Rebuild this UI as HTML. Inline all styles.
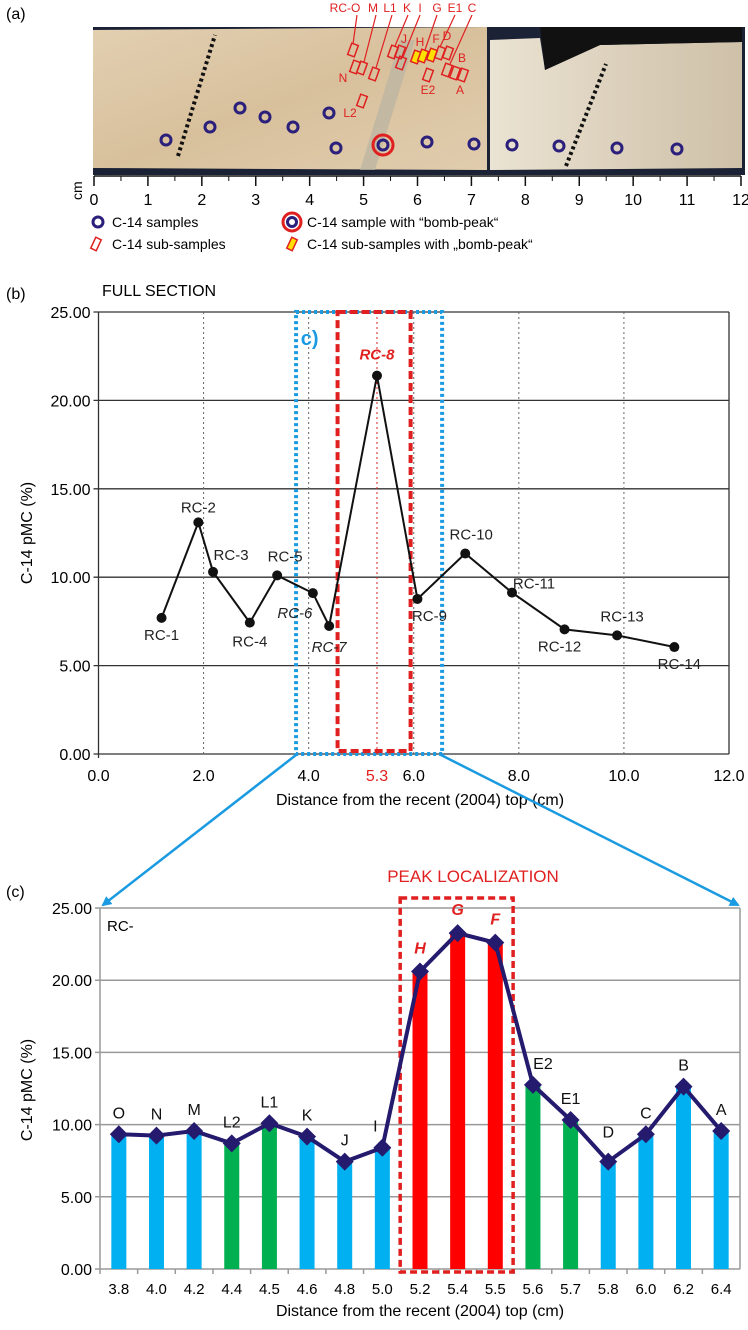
<!DOCTYPE html>
<html><head><meta charset="utf-8"><style>
html,body{margin:0;padding:0;background:#fff;}
svg{display:block;font-family:"Liberation Sans",Arial,sans-serif;}
</style></head><body>
<svg id="fig" width="748" height="1330" viewBox="0 0 748 1330" xmlns="http://www.w3.org/2000/svg">
<defs>
<linearGradient id="rockL" x1="0" y1="0" x2="1" y2="1">
<stop offset="0" stop-color="#e2d0b2"/><stop offset="0.5" stop-color="#d8c09c"/><stop offset="1" stop-color="#e0cdae"/></linearGradient>
<linearGradient id="rockR" x1="0" y1="0" x2="1" y2="0">
<stop offset="0" stop-color="#ebe3d3"/><stop offset="0.6" stop-color="#d9cdb8"/><stop offset="1" stop-color="#cfc1a8"/></linearGradient>
<marker id="arr" markerWidth="10" markerHeight="10" refX="8" refY="5" orient="auto" markerUnits="userSpaceOnUse"><path d="M0,0 L10,5 L0,10 Z" fill="#1a9ae0"/></marker>
</defs>

<!-- PANEL A -->
<g>
<text x="6" y="19" font-size="16">(a)</text>
<rect x="93" y="27" width="652" height="148" fill="#1c2236"/>
<polygon points="93,30 487,27 487,170 93,168" fill="url(#rockL)"/>
<polygon points="490,40 540,38 545,70 600,45 742,42 742,168 490,170" fill="url(#rockR)"/>
<polygon points="545,70 600,45 742,42 742,27 540,27" fill="#111"/>
<polygon points="360,170 400,40 415,40 375,170" fill="#b9b3a3" opacity="0.7"/>
<line x1="178" y1="156" x2="215" y2="35" stroke="#111" stroke-width="4" stroke-dasharray="3,3"/>
<line x1="566" y1="166" x2="606" y2="64" stroke="#111" stroke-width="4" stroke-dasharray="3,3"/>
<g id="subrects"></g>
<g id="rings"></g>
<g id="alabels" fill="#e02020" font-size="12"></g>
<text x="0" y="0" font-size="14" transform="translate(82,200) rotate(-90)">cm</text>
<line x1="94" y1="176" x2="741" y2="176" stroke="#111" stroke-width="1.5"/>
<g id="cmticks" font-size="16"></g>
<g font-size="14">
<circle cx="98" cy="222" r="5" fill="none" stroke="#2a1f7a" stroke-width="3"/>
<text x="112" y="227">C-14 samples</text>
<circle cx="292" cy="222" r="9" fill="none" stroke="#e02020" stroke-width="3"/>
<circle cx="292" cy="222" r="4.5" fill="none" stroke="#2a1f7a" stroke-width="3"/>
<text x="307" y="227">C-14 sample with “bomb-peak“</text>
<rect x="93" y="238" width="6" height="12" fill="none" stroke="#e02020" stroke-width="1.5" transform="rotate(25 96 244)"/>
<text x="112" y="249">C-14 sub-samples</text>
<rect x="289" y="238" width="6" height="12" fill="#ffe000" stroke="#e02020" stroke-width="1.5" transform="rotate(25 292 244)"/>
<text x="307" y="249">C-14 sub-samples with „bomb-peak“</text>
</g>
</g>

<!-- PANEL B -->
<g>
<text x="6" y="299" font-size="16">(b)</text>
<text x="102" y="296" font-size="16">FULL SECTION</text>
<g id="gridB"></g>
<g id="boxesB"></g>
<g id="lineB"></g>
<text x="0" y="0" font-size="16" text-anchor="middle" transform="translate(32,533) rotate(-90)">C-14 pMC (%)</text>
<text x="420" y="805" font-size="16" text-anchor="middle">Distance from the recent (2004) top (cm)</text>
</g>

<!-- connecting arrows -->
<line x1="296" y1="755" x2="103" y2="905" stroke="#1a9ae0" stroke-width="2.5" marker-end="url(#arr)"/>
<line x1="441" y1="755" x2="738" y2="905" stroke="#1a9ae0" stroke-width="2.5" marker-end="url(#arr)"/>

<!-- PANEL C -->
<g>
<text x="6" y="897" font-size="16">(c)</text>
<text x="473" y="882" font-size="17" fill="#e02020" text-anchor="middle">PEAK LOCALIZATION</text>
<g id="gridC"></g>
<text x="107" y="931" font-size="15">RC-</text>
<g id="barsC"></g>
<g id="lineC"></g>
<text x="0" y="0" font-size="16" text-anchor="middle" transform="translate(32,1090) rotate(-90)">C-14 pMC (%)</text>
<text x="420" y="1316" font-size="16" text-anchor="middle">Distance from the recent (2004) top (cm)</text>
</g>
</svg>

<script>
// ---- Panel B data ----
const bNames = ["RC-1","RC-2","RC-3","RC-4","RC-5","RC-6","RC-7","RC-8","RC-9","RC-10","RC-11","RC-12","RC-13","RC-14"];
const bDist = [1.2,1.9,2.18,2.88,3.4,4.08,4.39,5.3,6.07,6.98,7.87,8.87,9.87,10.96];
const bVals = [7.7,13.1,10.3,7.43,10.1,9.1,7.24,21.4,8.77,11.34,9.13,7.05,6.71,6.05];
const bYTicks = ["0.00","5.00","10.00","15.00","20.00","25.00"];
const bXTicks = ["0.0","2.0","4.0","6.0","8.0","10.0","12.0"];
// ---- Panel C data ----
const cCats = ["3.8","4.0","4.2","4.4","4.5","4.6","4.8","5.0","5.2","5.4","5.5","5.6","5.7","5.8","6.0","6.2","6.4"];
const cNames = ["O","N","M","L2","L1","K","J","I","H","G","F","E2","E1","D","C","B","A"];
const cVals = [9.33,9.24,9.56,8.7,10.09,9.17,7.44,8.4,20.6,23.26,22.6,12.75,10.32,7.44,9.33,12.63,9.56];
const cGroup = ["b","b","b","g","g","b","b","b","r","r","r","g","g","b","b","b","b"];
const cYTicks = ["0.00","5.00","10.00","15.00","20.00","25.00"];

const NS = "http://www.w3.org/2000/svg";
function mk(tag, attrs, parent, txt){const e=document.createElementNS(NS,tag);for(const k in attrs)e.setAttribute(k,attrs[k]);if(txt!==undefined)e.textContent=txt;parent.appendChild(e);return e;}

// axes B
const bL=98.5,bR=729,bT=312,bB=754,bMax=25,bXMax=12;
const xB=v=>bL+v/bXMax*(bR-bL);
const yB=v=>bB-v/bMax*(bB-bT);
const gB=document.getElementById('gridB');
bYTicks.forEach(t=>{const v=parseFloat(t);
 let l=mk('line',{x1:bL-5,x2:bR,y1:yB(v),y2:yB(v),stroke:'#333','stroke-width':1.3},gB);
 
 
 let tx=mk('text',{x:bL-8,y:yB(v)+6,'font-size':16,'text-anchor':'end'},gB,t);
 
 
});
bXTicks.forEach(t=>{const v=parseFloat(t);
 if(v>0&&v<12){let l=mk('line',{x1:xB(v),x2:xB(v),y1:bT,y2:bB,stroke:'#666','stroke-width':1,'stroke-dasharray':'2,3'},gB);
 
 }
 let tx=mk('text',{x:xB(v),y:781,'font-size':16,'text-anchor':'middle'},gB,t);
 
 
});
let ax=mk('line',{x1:bL,x2:bL,y1:bT,y2:bB+4,stroke:'#333','stroke-width':1.3},gB);


let ax2=mk('line',{x1:bR,x2:bR,y1:bT,y2:bB,stroke:'#333','stroke-width':1.3},gB);


let pl=mk('line',{x1:xB(5.3),x2:xB(5.3),y1:bT,y2:bB,stroke:'#e02020','stroke-width':1,'stroke-dasharray':'2,3'},gB);


let pt=mk('text',{x:xB(5.3),y:781,'font-size':16,'text-anchor':'middle',fill:'#e02020'},gB,'5.3');


const bx=document.getElementById('boxesB');
let blue=mk('rect',{x:xB(3.76),y:bT,width:xB(6.54)-xB(3.76),height:bB-bT,fill:'none',stroke:'#1a9ae0','stroke-width':4,'stroke-dasharray':'3,3'},bx);


let red=mk('rect',{x:xB(4.55),y:bT,width:xB(5.94)-xB(4.55),height:bB-bT-3,fill:'none',stroke:'#e02020','stroke-width':4,'stroke-dasharray':'8,4'},bx);


let cl=mk('text',{x:xB(3.85),y:345,'font-size':20,'font-weight':'bold',fill:'#1a9ae0'},bx,'c)');


const lB=document.getElementById('lineB');
let path=mk('polyline',{points:bDist.map((d,i)=>xB(d)+','+yB(bVals[i])).join(' '),fill:'none',stroke:'#111','stroke-width':2},lB);


const bLabOff=[[0,22,'m'],[0,-10,'m'],[18,-12,'m'],[0,24,'m'],[8,-14,'m'],[-18,25,'mi'],[0,26,'mi'],[0,-16,'r'],[12,22,'m'],[6,-14,'m'],[22,-4,'m'],[-5,22,'m'],[5,-14,'m'],[5,22,'m']];
bDist.forEach((d,i)=>{
 let c=mk('circle',{cx:xB(d),cy:yB(bVals[i]),r:5,fill:'#111'},lB);
 
 
 const o=bLabOff[i];
 const a={x:xB(d)+o[0],y:yB(bVals[i])+o[1],'font-size':15,'text-anchor':'middle',fill:'#222'};
 if(o[2]==='mi')a['font-style']='italic';
 if(o[2]==='r'){a['font-style']='italic';a['font-weight']='bold';a.fill='#e02020';}
 let t=mk('text',a,lB,bNames[i]);
 
 
});

// Panel C axes
const cL=100,cR=740,cT=908,cB=1269,cMax=25;
const step=(cR-cL)/cCats.length;
const xC=i=>cL+(i+0.5)*step;
const yC=v=>cB-v/cMax*(cB-cT);
const gC=document.getElementById('gridC');
cYTicks.forEach(t=>{const v=parseFloat(t);
 let l=mk('line',{x1:cL-5,x2:cR,y1:yC(v),y2:yC(v),stroke:'#999','stroke-width':1.5},gC);
 
 
 let tx=mk('text',{x:cL-8,y:yC(v)+6,'font-size':16,'text-anchor':'end'},gC,t);
 
 
});
let axc=mk('line',{x1:cL,x2:cL,y1:cT,y2:cB,stroke:'#999','stroke-width':1.5},gC);


let axr=mk('line',{x1:cR,x2:cR,y1:cT,y2:cB,stroke:'#999','stroke-width':1.5},gC);


cCats.forEach((c,i)=>{
 let tk=mk('line',{x1:cL+i*step,x2:cL+i*step,y1:cB,y2:cB+5,stroke:'#999','stroke-width':1.5},gC);
 
 
 let tx=mk('text',{x:xC(i),y:1294,'font-size':15,'text-anchor':'middle'},gC,c);
 
 
});
const colMap={b:'#00b0f0',g:'#00b050',r:'#ff0000'};
const barsC=document.getElementById('barsC');
cVals.forEach((v,i)=>{
 let r=mk('rect',{x:xC(i)-7.5,y:yC(v),width:15,height:cB-yC(v),fill:colMap[cGroup[i]]},barsC);
 
 
});
const pbL=cL+8*step-1, pbR=cL+11*step-1;
let pr=mk('rect',{x:pbL,y:898,width:pbR-pbL,height:cB-898+3,fill:'none',stroke:'#e02020','stroke-width':3.5,'stroke-dasharray':'7,4'},barsC);


const lC=document.getElementById('lineC');
let pc=mk('polyline',{points:cVals.map((v,i)=>xC(i)+','+yC(v)).join(' '),fill:'none',stroke:'#241a6e','stroke-width':4,'stroke-linejoin':'round'},lC);


cVals.forEach((v,i)=>{
 const x=xC(i),y=yC(v);
 let d=mk('polygon',{points:`${x},${y-9} ${x+9},${y} ${x},${y+9} ${x-9},${y}`,fill:'#241a6e'},lC);
 
 
 const isR=cGroup[i]==='r';
 const a={x:x+(i===11?10:0),y:y-(isR?18:16),'font-size':16,'text-anchor':'middle',fill:isR?'#e02020':'#111'};
 if(isR){a['font-style']='italic';a['font-weight']='bold';}
 if(cNames[i]==='I'){a.x=x-7;}
 if(cNames[i]==='D'){a.y=y-24;}
 let t=mk('text',a,lC,cNames[i]);
 
 
});

// Panel A details
const cmTicks=["0","1","2","3","4","5","6","7","8","9","10","11","12"];
const aL=94,aR=741;
const gT=document.getElementById('cmticks');
cmTicks.forEach((t,i)=>{
 const x=aL+i*(aR-aL)/12;
 let l=mk('line',{x1:x,x2:x,y1:176,y2:186,stroke:'#111','stroke-width':1.5},gT);
 
 
 if(i<12){let h=mk('line',{x1:x+(aR-aL)/24,x2:x+(aR-aL)/24,y1:176,y2:181,stroke:'#111','stroke-width':1},gT);
 
 }
 let tx=mk('text',{x:x,y:205,'text-anchor':'middle'},gT,t);
 
 
});
const ringPos=[[166,140],[210,127],[240,108],[265,117],[293,127],[329,113],[336,148],[383,145],[427,142],[474,144],[512,145],[559,146],[617,148],[677,149]];
const rg=document.getElementById('rings');
ringPos.forEach((p,i)=>{
 if(i===7){let o=mk('circle',{cx:p[0],cy:p[1],r:10,fill:'none',stroke:'#e02020','stroke-width':3},rg);
 
 }
 let c=mk('circle',{cx:p[0],cy:p[1],r:5,fill:'none',stroke:'#2a1f7a','stroke-width':3},rg);
 
 
});
const subPos=[[353,50,0],[355,67,0],[362,68,0],[374,74,0],[362,101,0],[393,52,0],[400,52,0],[401,63,0],[416,57,1],[423,56,1],[432,55,1],[440,53,0],[448,53,0],[428,75,0],[447,70,0],[455,73,0],[463,75,0]];
const sg=document.getElementById('subrects');
subPos.forEach(p=>{
 let r=mk('rect',{x:p[0]-3.5,y:p[1]-6,width:7,height:12,fill:p[2]?'#ffe000':'none',stroke:'#e02020','stroke-width':1.5,transform:`rotate(20 ${p[0]} ${p[1]})`},sg);
 
 
});
const aLab=[["RC-O",345,12],["M",373,12],["L1",390,12],["K",407,12],["I",420,12],["G",437,12],["E1",455,12],["C",472,12],["J",404,43],["H",420,46],["F",436,43],["D",447,40],["B",462,62],["N",343,82],["E2",428,94],["A",460,94],["L2",350,117]];
const al=document.getElementById('alabels');
aLab.forEach(l=>{
 let t=mk('text',{x:l[1],y:l[2],'text-anchor':'middle'},al,l[0]);
 
 
});
const leaders=[[357,15,353,44],[376,15,364,62],[392,15,376,68],[408,15,395,46],[420,15,403,57],[437,15,425,50],[455,15,440,47],[472,15,450,64]];
leaders.forEach(p=>{
 let l=mk('line',{x1:p[0],y1:p[1],x2:p[2],y2:p[3],stroke:'#e02020','stroke-width':1.2},al);
 
 
});
</script>
</body></html>
